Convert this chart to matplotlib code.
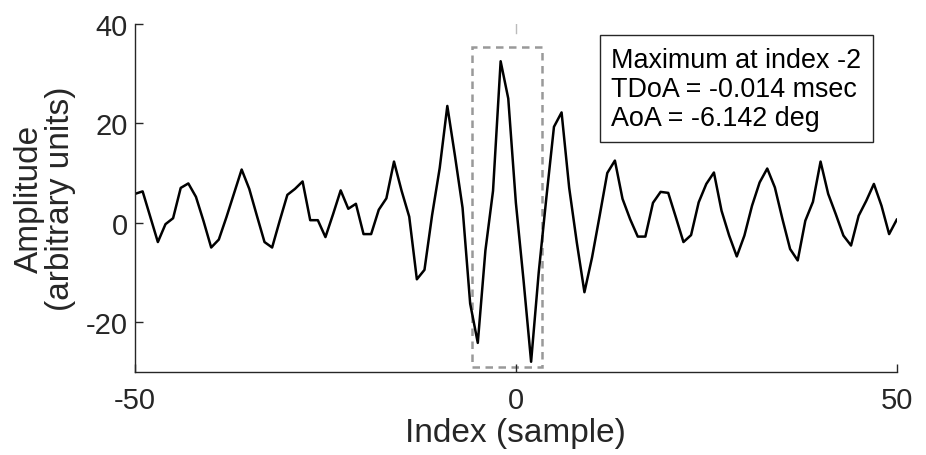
import numpy as np
import matplotlib
matplotlib.use("Agg")
from matplotlib import pyplot as plt
from matplotlib.patches import Rectangle

plt.rcParams['font.family'] = ['Liberation Sans', 'DejaVu Sans']
plt.rcParams['axes.unicode_minus'] = False

# cross-correlation lags and amplitude
lags = np.arange(-50, 51)
amp = [5.8, 6.3, 1.2, -3.9, -0.3, 0.9, 7.0, 7.9, 5.2, 0.3,
       -5.0, -3.4, 1.1, 5.9, 10.7, 6.8, 1.4, -3.9, -5.0, 0.4,
       5.6, 6.8, 8.3, 0.5, 0.5, -2.9, 1.7, 6.5, 2.8, 3.8,
       -2.3, -2.3, 2.6, 4.9, 12.3, 6.4, 1.2, -11.4, -9.5, 1.5,
       11.0, 23.5, 13.5, 3.0, -16.3, -24.2, -5.6, 6.4, 32.5, 25.0,
       4.0, -11.5, -28.0, -10.0, 5.0, 19.3, 22.2, 7.0, -4.0, -14.0,
       -7.0, 1.4, 10.0, 12.5, 4.8, 0.7, -2.8, -2.8, 4.0, 6.2,
       6.0, 1.1, -3.9, -2.5, 4.1, 7.8, 10.1, 2.4, -2.6, -6.8,
       -2.6, 3.4, 8.1, 10.9, 7.1, 0.7, -5.3, -7.6, 0.4, 4.2,
       12.3, 5.8, 1.7, -2.6, -4.6, 1.4, 4.4, 7.8, 3.4, -2.3, 0.6]

x_ticks = [-50, 0, 50]
y_ticks = [-20, 0, 20, 40]
# search window drawn around the peak
win_x = (-5.8, 3.4)
win_y = (-29.1, 35.3)
info = ['Maximum at index -2', 'TDoA = -0.014 msec', 'AoA = -6.142 deg']

dark = '#262626'
fig = plt.figure(figsize=(9.26, 4.56), dpi=100)
ax = fig.add_axes([0.1458, 0.1827, 0.8226, 0.7625])

ax.plot(lags, amp, color='black', lw=1.8)
ax.add_patch(Rectangle((win_x[0], win_y[0]), win_x[1] - win_x[0], win_y[1] - win_y[0],
                       fill=False, ls=(0, (3, 2.2)), lw=1.8, ec='#999999'))
ax.axvline(0, ymin=0.975, ymax=1.0, color='#bbbbbb', lw=1)

ax.set_xlim(-50, 50)
ax.set_ylim(-30, 40)
ax.set_xticks(x_ticks)
ax.set_yticks(y_ticks)
for s in ['top', 'right']:
    ax.spines[s].set_visible(False)
for s in ['left', 'bottom']:
    ax.spines[s].set_color(dark)
    ax.spines[s].set_linewidth(1.0)
ax.tick_params(direction='in', length=6, width=1, color=dark, labelcolor=dark,
               labelsize=21)
ax.tick_params(axis='x', pad=10)
ax.tick_params(axis='y', pad=5)

ax.set_xlabel('Index (sample)', fontsize=24, color=dark)
ax.xaxis.set_label_coords(0.5, -0.13)
ax.set_ylabel('Amplitude\n(arbitrary units)', fontsize=24, color=dark,
              linespacing=1.0)
ax.yaxis.set_label_coords(-0.078, 0.5)

ax.text(0.625, 0.935, '\n'.join(info), transform=ax.transAxes, fontsize=19.4,
        va='top', ha='left', linespacing=1.15, color='black',
        bbox=dict(boxstyle='square,pad=0.42', fc='white', ec=dark, lw=1))

fig.savefig('out.png', dpi=100)
